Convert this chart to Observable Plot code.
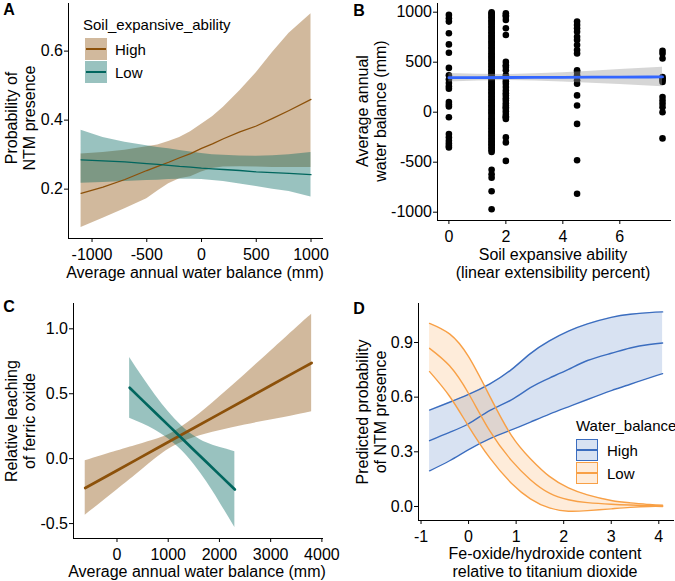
<!DOCTYPE html>
<html><head><meta charset="utf-8">
<script src="https://cdn.jsdelivr.net/npm/d3@7"></script>
<script src="https://cdn.jsdelivr.net/npm/@observablehq/plot@0.6"></script>
<style>
body{margin:0;background:#fff;}
#fig{position:relative;width:675px;height:581px;font-family:"Liberation Sans",Arial,Helvetica,sans-serif;color:#000;overflow:hidden;background:#fff;}
</style></head><body><div id="fig"></div>
<script>
// ---------- Panel A data ----------
const aX      = [-1100, -900, -700, -500, -400, -300, -200, -100, 0, 100, 200, 350, 500, 650, 800, 1000];
const aHigh   = [0.188, 0.206, 0.228, 0.254, 0.266, 0.278, 0.291, 0.303, 0.318, 0.331, 0.346, 0.366, 0.383, 0.405, 0.428, 0.460];
const aHighHi = [0.302, 0.306, 0.313, 0.323, 0.328, 0.338, 0.350, 0.366, 0.388, 0.410, 0.437, 0.485, 0.537, 0.597, 0.652, 0.708];
const aHighLo = [0.089, 0.116, 0.143, 0.172, 0.195, 0.216, 0.230, 0.236, 0.250, 0.260, 0.264, 0.265, 0.264, 0.263, 0.263, 0.263];
const aLow    = [0.285, 0.282, 0.279, 0.274, 0.272, 0.269, 0.266, 0.264, 0.261, 0.259, 0.257, 0.254, 0.250, 0.248, 0.246, 0.242];
const aLowHi  = [0.371, 0.350, 0.336, 0.326, 0.321, 0.317, 0.312, 0.308, 0.303, 0.300, 0.298, 0.296, 0.295, 0.297, 0.300, 0.306];
const aLowLo  = [0.217, 0.219, 0.222, 0.225, 0.226, 0.228, 0.229, 0.229, 0.228, 0.225, 0.222, 0.215, 0.208, 0.200, 0.193, 0.177];
const aXTicks = [-1000, -500, 0, 500, 1000];
const aYTicks = [0.2, 0.4, 0.6];
const aGroups = ["High", "Low"];

// ---------- Panel B data ----------
const bCol0  = [973, 940, 906, 789, 678, 594, 443, 369, 326, 292, 258, 235, 101, 77, 57, -50, -218, -252, -285, -312, -336, -352];
const bCol15 = [1000, 990, 975, 962, 950, 935, 920, 905, 893, 878, 860, 845, 832, 815, 800, 787, 770, 755, 742, 728, 710, 697, 682, 668, 650, 636, 622, 605, 590, 577, 560, 548, 532, 518, 503, 488, 474, 460, 447, 430, 416, 402, 389, 372, 358, 344, 330, 315, 300, 288, 272, 258, 243, 230, 214, 200, 187, 171, 157, 142, 128, 114, 100, 85, 70, 57, 42, 28, 14, 0, -14, -28, -45, -60, -74, -88, -103, -118, -132, -147, -160, -175, -190, -205, -218, -233, -248, -262, -277, -292, -306, -320, -334, -350, -365, -380, -398, -575, -620, -655, -790, -970];
const bCol2  = [990, 970, 956, 923, 839, 772, 503, 470, 453, 420, 369, 336, 310, 285, 252, 218, 190, 168, 140, 117, 90, 67, 50, 34, 10, -17, -40, -50, -67, -252, -302, -487];
const bCol45 = [906, 873, 839, 805, 755, 721, 671, 621, 587, 420, 403, 369, 319, 285, 168, 67, -117, -480, -815];
const bCol75 = [614, 587, 537, 352, 336, 319, 302, 151, 117, 84, 50, 0, -262];
const bColX  = [0, 1.5, 2, 4.5, 7.5];
const bFitX  = [0, 1, 2, 3, 4, 5, 6, 7, 7.5];
const bFit   = [345, 346, 347, 348, 349, 350, 351, 352, 352.5];
const bFitLo = [303, 313, 317, 312, 303, 290, 276, 262, 255];
const bFitHi = [387, 379, 377, 384, 395, 410, 426, 442, 450];
const bXTicks = [0, 2, 4, 6];
const bYTicks = [-1000, -500, 0, 500, 1000];

// ---------- Panel C data ----------
const cHighX  = [-620, 0, 400, 800, 1100, 1500, 2000, 2500, 3000, 3500, 3800];
const cHigh   = [-0.226, -0.091, -0.004, 0.084, 0.149, 0.236, 0.345, 0.454, 0.563, 0.672, 0.737];
const cHighHi = [-0.016, 0.059, 0.106, 0.154, 0.204, 0.311, 0.475, 0.649, 0.828, 1.007, 1.112];
const cHighLo = [-0.436, -0.241, -0.114, 0.014, 0.094, 0.161, 0.215, 0.259, 0.298, 0.337, 0.362];
const cLowX   = [247, 500, 750, 1000, 1250, 1500, 1750, 2000, 2301];
const cLow    = [0.546, 0.449, 0.354, 0.258, 0.163, 0.067, -0.028, -0.123, -0.238];
const cLowHi  = [0.780, 0.629, 0.489, 0.363, 0.258, 0.177, 0.122, 0.087, 0.054];
const cLowLo  = [0.312, 0.269, 0.219, 0.153, 0.068, -0.043, -0.178, -0.333, -0.530];
const cXTicks = [0, 1000, 2000, 3000, 4000];
const cYTicks = [-0.5, 0, 0.5, 1.0];

// ---------- Panel D data ----------
const dX      = [-0.82, -0.4, 0, 0.45, 0.9, 1.3, 1.7, 2.1, 2.5, 3.0, 3.4, 3.8, 4.08];
const dHigh   = [0.361, 0.407, 0.454, 0.527, 0.585, 0.652, 0.705, 0.752, 0.801, 0.841, 0.870, 0.889, 0.897];
const dHighHi = [0.529, 0.572, 0.615, 0.673, 0.751, 0.839, 0.909, 0.962, 1.002, 1.038, 1.055, 1.064, 1.068];
const dHighLo = [0.196, 0.251, 0.312, 0.372, 0.420, 0.463, 0.507, 0.547, 0.587, 0.636, 0.671, 0.706, 0.729];
const dLow    = [0.868, 0.772, 0.620, 0.413, 0.253, 0.147, 0.073, 0.037, 0.021, 0.012, 0.008, 0.005, 0.003];
const dLowHi  = [1.005, 0.947, 0.822, 0.603, 0.390, 0.262, 0.165, 0.102, 0.064, 0.033, 0.020, 0.011, 0.007];
const dLowLo  = [0.740, 0.605, 0.440, 0.265, 0.128, 0.042, -0.008, -0.026, -0.023, -0.013, -0.005, 0.000, 0.000];
const dXTicks = [-1, 0, 1, 2, 3, 4];
const dYTicks = [0, 0.3, 0.6, 0.9];
const dGroups = ["High", "Low"];

// ---------- styling ----------
const FONT = '"Liberation Sans", Arial, Helvetica, sans-serif';
const colHigh = "#8C510A", colLow = "#01665E";
const dBlue = "#3B6DBF", dOrange = "#F8A046";
const fig = document.getElementById("fig");
const style = () => ({fontSize: "16px", fontFamily: FONT, color: "#000", background: "transparent", overflow: "visible"});
const intFmt = d => String(d);
const decFmt = d => d.toFixed(1);
const xAxisOpts = {tickSize: 4, tickPadding: 6, label: null, line: true};
const yAxisOpts = {tickSize: 4, tickPadding: 1.5, label: null, line: true};

function place(el, left, top) {
  el.style.position = "absolute"; el.style.left = left + "px"; el.style.top = top + "px";
  fig.appendChild(el);
}
function text(s, x, y, {size = 16, weight = "normal", rotate = false, anchor = "center", lh = 1} = {}) {
  const d = document.createElement("div");
  d.textContent = s;
  const tr = anchor === "center" ? "translate(-50%,-50%)" : "translate(0,-50%)";
  d.style.cssText = `position:absolute;left:${x}px;top:${y}px;font-size:${size}px;font-weight:${weight};line-height:${lh};white-space:pre;text-align:center;transform:${tr}${rotate ? " rotate(-90deg)" : ""};`;
  fig.appendChild(d);
}
function key(x, y, color, alpha, border) {
  const k = document.createElement("div");
  const c = d3.color(color); c.opacity = alpha;
  k.style.cssText = `position:absolute;left:${x}px;top:${y}px;width:22px;height:22px;box-sizing:border-box;background:${c.formatRgb()};${border ? `border:1.5px solid ${color};` : ""}`;
  const l = document.createElement("div");
  l.style.cssText = `position:absolute;left:${border ? 0 : 1}px;right:${border ? 0 : 1}px;top:50%;height:1.5px;margin-top:-0.75px;background:${color};`;
  k.appendChild(l);
  fig.appendChild(k);
}

// ---------- Panel A ----------
const aRows = aX.map((x, i) => ({x, high: aHigh[i], highHi: aHighHi[i], highLo: aHighLo[i], low: aLow[i], lowHi: aLowHi[i], lowLo: aLowLo[i]}));
const pA = Plot.plot({
  width: 337, height: 290, marginLeft: 68, marginRight: 15, marginTop: 3, marginBottom: 52,
  style: style(),
  x: {domain: [-1215, 1105], ticks: aXTicks, tickFormat: intFmt, ...xAxisOpts},
  y: {domain: [0.057, 0.738], ticks: aYTicks, tickFormat: decFmt, ...yAxisOpts},
  marks: [
    Plot.areaY(aRows, {x: "x", y1: "highLo", y2: "highHi", fill: colHigh, fillOpacity: 0.4}),
    Plot.areaY(aRows, {x: "x", y1: "lowLo", y2: "lowHi", fill: colLow, fillOpacity: 0.4}),
    Plot.line(aRows, {x: "x", y: "high", stroke: colHigh, strokeWidth: 1.3}),
    Plot.line(aRows, {x: "x", y: "low", stroke: colLow, strokeWidth: 1.3})
  ]
});
place(pA, 0, 0);

// ---------- Panel B ----------
const bCols = [bCol0, bCol15, bCol2, bCol45, bCol75];
const bPts = bCols.flatMap((col, j) => col.map(v => ({x: bColX[j], y: v})));
const bRows = bFitX.map((x, i) => ({x, fit: bFit[i], lo: bFitLo[i], hi: bFitHi[i]}));
const pB = Plot.plot({
  width: 338, height: 290, marginLeft: 100, marginRight: 5, marginTop: 3, marginBottom: 70,
  style: style(),
  x: {domain: [-0.4, 7.78], ticks: bXTicks, tickFormat: intFmt, ...xAxisOpts},
  y: {domain: [-1083, 1087], ticks: bYTicks, tickFormat: intFmt, ...yAxisOpts},
  marks: [
    Plot.dot(bPts, {x: "x", y: "y", r: 3.3, fill: "#000", stroke: "none"}),
    Plot.areaY(bRows, {x: "x", y1: "lo", y2: "hi", fill: "#999999", fillOpacity: 0.4}),
    Plot.line(bRows, {x: "x", y: "fit", stroke: "#3366FF", strokeWidth: 2.8})
  ]
});
place(pB, 337, 0);

// ---------- Panel C ----------
const cHighRows = cHighX.map((x, i) => ({x, y: cHigh[i], hi: cHighHi[i], lo: cHighLo[i]}));
const cLowRows = cLowX.map((x, i) => ({x, y: cLow[i], hi: cLowHi[i], lo: cLowLo[i]}));
const pC = Plot.plot({
  width: 337, height: 291, marginLeft: 73, marginRight: 15, marginTop: 13, marginBottom: 43,
  style: style(),
  x: {domain: [-849, 4012], ticks: cXTicks, tickFormat: intFmt, ...xAxisOpts},
  y: {domain: [-0.615, 1.195], ticks: cYTicks, tickFormat: decFmt, ...yAxisOpts},
  marks: [
    Plot.areaY(cHighRows, {x: "x", y1: "lo", y2: "hi", fill: colHigh, fillOpacity: 0.4, curve: "natural"}),
    Plot.areaY(cLowRows, {x: "x", y1: "lo", y2: "hi", fill: colLow, fillOpacity: 0.4, curve: "natural"}),
    Plot.line(cHighRows, {x: "x", y: "y", stroke: colHigh, strokeWidth: 2.7}),
    Plot.line(cLowRows, {x: "x", y: "y", stroke: colLow, strokeWidth: 2.7})
  ]
});
place(pC, 0, 290);

// ---------- Panel D ----------
const dRows = dX.map((x, i) => ({x, h: dHigh[i], hHi: dHighHi[i], hLo: dHighLo[i], l: dLow[i], lHi: dLowHi[i], lLo: dLowLo[i]}));
const dLine = (y, c) => Plot.line(dRows, {x: "x", y, stroke: c, strokeWidth: 1.4, curve: "natural"});
const pD = Plot.plot({
  width: 338, height: 291, marginLeft: 81, marginRight: 2, marginTop: 13, marginBottom: 61,
  style: style(),
  x: {domain: [-1.053, 4.309], ticks: dXTicks, tickFormat: intFmt, ...xAxisOpts},
  y: {domain: [-0.077, 1.114], ticks: dYTicks, tickFormat: decFmt, ...yAxisOpts},
  marks: [
    Plot.areaY(dRows, {x: "x", y1: "hLo", y2: "hHi", fill: dBlue, fillOpacity: 0.2, curve: "natural"}),
    Plot.areaY(dRows, {x: "x", y1: "lLo", y2: "lHi", fill: dOrange, fillOpacity: 0.2, curve: "natural"}),
    dLine("hHi", dBlue), dLine("h", dBlue), dLine("hLo", dBlue),
    dLine("lHi", dOrange), dLine("l", dOrange), dLine("lLo", dOrange)
  ]
});
place(pD, 337, 290);

// ---------- Titles, panel letters, legends ----------
text("A", 9, 10, {size: 16, weight: "bold"});
text("Probability of\nNTM presence", 21, 118, {rotate: true, lh: 1.15});
text("Average annual water balance (mm)", 195, 273);
text("Soil_expansive_ability", 83, 24, {size: 15, anchor: "left"});
key(85, 38, colHigh, 0.4, false);
key(85, 61, colLow, 0.4, false);
text(aGroups[0], 115, 49, {size: 15, anchor: "left"});
text(aGroups[1], 115, 72, {size: 15, anchor: "left"});

text("B", 359, 11, {size: 16, weight: "bold"});
text("Average annual\nwater balance (mm)", 372, 111, {rotate: true, lh: 1.15});
text("Soil expansive ability", 553, 255);
text("(linear extensibility percent)", 553, 273);

text("C", 9, 307, {size: 16, weight: "bold"});
text("Relative leaching\nof ferric oxide", 21, 421, {rotate: true, lh: 1.15});
text("Average annual water balance (mm)", 197, 572);

text("D", 359, 309, {size: 16, weight: "bold"});
text("Predicted probability\nof NTM presence", 372, 412, {rotate: true, lh: 1.15});
text("Fe-oxide/hydroxide content", 545, 554);
text("relative to titanium dioxide", 545, 572);
text("Water_balance", 576, 425, {size: 15, anchor: "left"});
key(576, 439, dBlue, 0.2, true);
key(576, 462, dOrange, 0.2, true);
text(dGroups[0], 607, 450, {size: 15, anchor: "left"});
text(dGroups[1], 607, 473, {size: 15, anchor: "left"});
</script></body></html>
